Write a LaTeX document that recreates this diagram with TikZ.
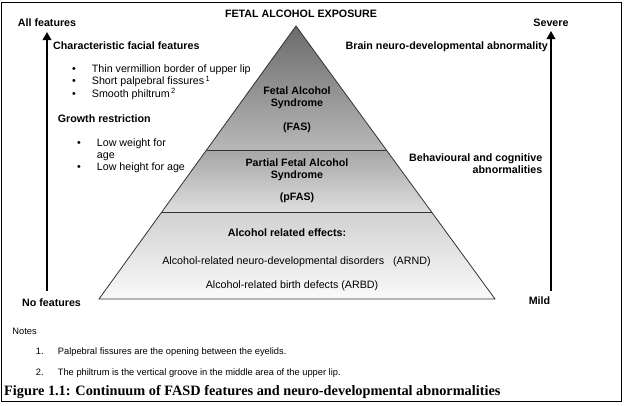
\documentclass[tikz,border=0pt]{standalone}
\usepackage{fontspec}
\setmainfont{Liberation Sans}
\newfontfamily\capfont{Liberation Serif}
\usepackage{tikz}
\usetikzlibrary{arrows.meta, positioning}
\tikzstyle{txt} = [inner sep=0pt, font=\fontsize{10.7}{12}\selectfont]
\tikzstyle{head} = [inner sep=0pt, font=\fontsize{10.7}{12}\selectfont\bfseries]
\tikzstyle{note} = [inner sep=0pt, font=\fontsize{9.3}{11}\selectfont]
\tikzstyle{tier} = [draw=black!80, line width=0.8pt]
\tikzstyle{axis} = [line width=1.8pt, -{Triangle[length=8pt, width=8.5pt]}]

\begin{document}
\begin{tikzpicture}[x=1pt, y=-1pt]
  \useasboundingbox (0,0) rectangle (624,406);
  \draw[line width=1pt] (1.5,2.5) rectangle (621.5,401.5);

  % pyramid
  \coordinate (apex) at (296,26);
  \coordinate (bl) at (99,299);
  \coordinate (br) at (495,299);
  \coordinate (l1) at (206.5,150);
  \coordinate (r1) at (386.4,150);
  \coordinate (l2) at (161.8,212);
  \coordinate (r2) at (431.6,212);
  \shade[top color=black!58, bottom color=black!28] (apex) -- (r1) -- (l1) -- cycle;
  \shade[top color=black!35, bottom color=black!13] (l1) -- (r1) -- (r2) -- (l2) -- cycle;
  \shade[top color=black!18, bottom color=black!2] (l2) -- (r2) -- (br) -- (bl) -- cycle;
  \draw[tier] (apex) -- (br) -- (bl) -- cycle;
  \draw[tier] (l1) -- (r1) (l2) -- (r2);

  \node (title)    [head, anchor=base] at (301,17.5) {FETAL ALCOHOL EXPOSURE};
  \node (fas)      [head, align=center] at (297,98.2) {Fetal Alcohol\\Syndrome};
  \node (fasabbr)  [head, anchor=base] at (297,130.4) {(FAS)};
  \node (pfas)     [head, align=center] at (297,169.8) {Partial Fetal Alcohol\\Syndrome};
  \node (pfasabbr) [head, anchor=base] at (297,200.3) {(pFAS)};
  \node (effects)  [head, anchor=base] at (287,236.5) {Alcohol related effects:};
  \node (arnd)     [txt, anchor=base] at (296.5,265)
        {Alcohol-related neuro-developmental disorders\hspace{9pt}(ARND)};
  \node (arbd)     [txt, anchor=base] at (292,288) {Alcohol-related birth defects (ARBD)};

  % left side
  \node (allfeat) [head, anchor=base] at (47,26.7) {All features};
  \node (nofeat)  [head, anchor=base] at (51.5,306) {No features};
  \node (facial)  [head, anchor=base west] at (53,50) {Characteristic facial features};
  \foreach \t/\yy [count=\i] in {{Thin vermillion border of upper lip}/72.5,
      {Short palpebral fissures\textsuperscript{\,1}}/85,
      {Smooth philtrum\textsuperscript{\,2}}/97.5}
    \node (facial\i) [txt, anchor=base west] at (72,\yy) {\makebox[19.7pt][l]{•}\t};
  \node (growth)  [head, anchor=base west] at (57.7,123) {Growth restriction};
  \node (growth1) [txt, anchor=base west] at (77,147) {\makebox[19.7pt][l]{•}Low weight for};
  \node (growth1b)[txt, anchor=base west] at (96.7,158.5) {age};
  \node (growth2) [txt, anchor=base west] at (77,170.7) {\makebox[19.7pt][l]{•}Low height for age};
  \draw[axis, shorten <=7.5pt, shorten >=5pt] (nofeat.north -| allfeat.south) -- (allfeat.south);

  % right side
  \node (severe) [head, anchor=base] at (551,27) {Severe};
  \node (mild)   [head, anchor=base] at (539.5,304.3) {Mild};
  \node (brain)  [head, anchor=base east] at (548,49.7) {Brain neuro-developmental abnormality};
  \node (behav)  [head, align=right, anchor=east] at (542.5,164.1)
        {Behavioural and cognitive\\abnormalities};
  \draw[axis, shorten <=5.8pt, shorten >=3.7pt] (mild.north -| severe.south) -- (severe.south);

  % notes and caption
  \node (notes)   [note, anchor=base west] at (12.3,334) {Notes};
  \node (noteone) [note, anchor=base west] at (35.7,354.3)
        {\makebox[22pt][l]{1.}Palpebral fissures are the opening between the eyelids.};
  \node (notetwo) [note, anchor=base west] at (35.7,375)
        {\makebox[22pt][l]{2.}The philtrum is the vertical groove in the middle area of the upper lip.};
  \node (caption) [inner sep=0pt, anchor=base west, font=\capfont\bfseries\fontsize{14.3}{16}\selectfont]
        at (4,395) {Figure 1.1: Continuum of FASD features and neuro-developmental abnormalities};
\end{tikzpicture}
\end{document}
